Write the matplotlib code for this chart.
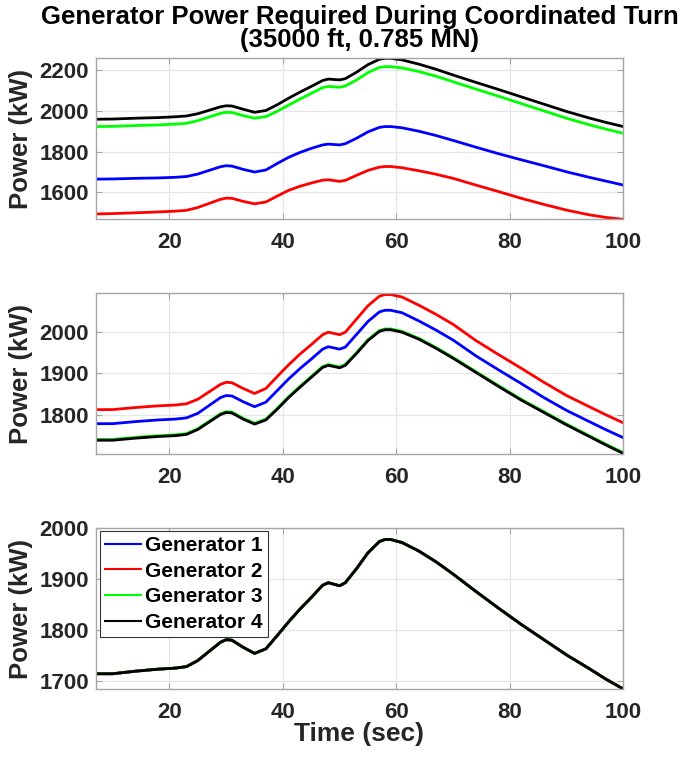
import matplotlib
matplotlib.use("Agg")
import matplotlib.pyplot as plt

# ---------------- data ----------------
time_s = [7, 10, 14, 18, 21, 23, 25, 27, 29, 30, 31, 33, 35, 37, 39, 41, 43, 45, 47, 48,
          49, 50, 51, 53, 55, 57, 58, 59, 61, 64, 67, 70, 74, 78, 82, 86, 90, 94, 97, 100]

# Panel 1
p1_gen1 = [1665, 1666, 1669, 1671, 1674, 1678, 1690, 1708, 1726, 1731, 1729, 1713, 1700, 1710, 1742, 1772, 1796, 1816, 1833, 1837,
           1835, 1833, 1839, 1866, 1897, 1919, 1923, 1923, 1917, 1900, 1879, 1855, 1822, 1790, 1760, 1731, 1701, 1674, 1655, 1636]
p1_gen2 = [1494, 1496, 1500, 1504, 1508, 1512, 1526, 1546, 1566, 1572, 1571, 1556, 1544, 1553, 1582, 1610, 1630, 1646, 1660, 1662,
           1658, 1654, 1659, 1684, 1708, 1724, 1727, 1727, 1721, 1706, 1689, 1669, 1636, 1604, 1571, 1541, 1513, 1490, 1477, 1468]
p1_gen3 = [1923, 1924, 1928, 1931, 1935, 1939, 1952, 1970, 1988, 1993, 1992, 1977, 1964, 1972, 1998, 2028, 2058, 2086, 2114, 2120,
           2118, 2116, 2122, 2152, 2188, 2213, 2217, 2217, 2211, 2193, 2170, 2143, 2107, 2072, 2036, 2000, 1964, 1932, 1910, 1890]
p1_gen4 = [1959, 1960, 1964, 1967, 1971, 1975, 1986, 2003, 2020, 2025, 2024, 2008, 1993, 2002, 2030, 2062, 2092, 2120, 2149, 2156,
           2154, 2152, 2158, 2190, 2227, 2253, 2258, 2258, 2250, 2229, 2204, 2176, 2140, 2105, 2069, 2033, 1997, 1965, 1943, 1923]

# Panel 2
p2_gen1 = [1778, 1778, 1783, 1787, 1789, 1792, 1803, 1822, 1841, 1846, 1845, 1831, 1819, 1830, 1858, 1886, 1911, 1934, 1958, 1964,
           1961, 1958, 1963, 1994, 2025, 2048, 2052, 2052, 2046, 2026, 2004, 1980, 1942, 1908, 1875, 1841, 1810, 1783, 1763, 1744]
p2_gen2 = [1812, 1812, 1817, 1821, 1823, 1826, 1837, 1855, 1873, 1878, 1877, 1863, 1851, 1863, 1892, 1920, 1946, 1969, 1993, 1999,
           1996, 1993, 1999, 2031, 2063, 2086, 2090, 2090, 2084, 2064, 2042, 2018, 1979, 1945, 1912, 1878, 1846, 1819, 1799, 1780]
p2_gen3 = [1740, 1740, 1745, 1749, 1751, 1754, 1766, 1784, 1802, 1807, 1806, 1791, 1779, 1789, 1815, 1843, 1868, 1892, 1916, 1921,
           1918, 1915, 1921, 1950, 1981, 2003, 2007, 2007, 2001, 1984, 1962, 1938, 1904, 1870, 1837, 1807, 1777, 1749, 1728, 1708]
p2_gen4 = [1738, 1738, 1743, 1747, 1749, 1752, 1764, 1782, 1800, 1805, 1804, 1789, 1777, 1787, 1813, 1841, 1866, 1890, 1914, 1919,
           1916, 1913, 1919, 1948, 1979, 2001, 2005, 2005, 1999, 1982, 1960, 1936, 1902, 1868, 1835, 1805, 1775, 1747, 1726, 1706]

# Panel 3 (all four generators identical)
p3_gen = [1714, 1714, 1719, 1723, 1725, 1728, 1740, 1758, 1776, 1781, 1780, 1766, 1754, 1763, 1789, 1816, 1841, 1864, 1888, 1893,
          1890, 1887, 1893, 1921, 1952, 1974, 1978, 1978, 1972, 1955, 1934, 1910, 1876, 1843, 1811, 1781, 1751, 1724, 1703, 1684]

gen_labels = ["Generator 1", "Generator 2", "Generator 3", "Generator 4"]
gen_colors = ["#0000ff", "#ff0000", "#00ff00", "#000000"]

x_ticks = [20, 40, 60, 80, 100]
p1_yticks = [1600, 1800, 2000, 2200]
p2_yticks = [1800, 1900, 2000]
p3_yticks = [1700, 1800, 1900, 2000]

title_text = "Generator Power Required During Coordinated Turn\n(35000 ft, 0.785 MN)"
ylabel_text = "Power (kW)"
xlabel_text = "Time (sec)"

# ---------------- style ----------------
plt.rcParams['font.family'] = ['Liberation Sans', 'DejaVu Sans']
plt.rcParams['font.weight'] = 'bold'

W, H = 684, 759
fig = plt.figure(figsize=(W / 100, H / 100), dpi=100)

left = 95.7 / W
width = (623.3 - 95.7) / W
panels = [(58.3, 219.3), (293.3, 454.3), (528.3, 689.0)]
axes = []
for top, bot in panels:
    ax = fig.add_axes([left, 1 - bot / H, width, (bot - top) / H])
    axes.append(ax)

frame_col = "#a6a6a6"
text_col = "#262626"

def style(ax, yticks, ylim):
    ax.set_xlim(7, 100)
    ax.set_ylim(*ylim)
    ax.set_xticks(x_ticks)
    ax.set_yticks(yticks)
    ax.grid(True, color="#e6e6e6", linewidth=0.9)
    ax.set_axisbelow(True)
    for sp in ax.spines.values():
        sp.set_color(frame_col)
        sp.set_linewidth(1.0)
    ax.tick_params(direction='in', top=True, right=True, length=4, width=0.8,
                   color=frame_col, labelcolor=text_col, labelsize=16)
    ax.tick_params(axis='x', pad=9)
    ax.tick_params(axis='y', pad=5)
    for lab in ax.get_xticklabels() + ax.get_yticklabels():
        lab.set_fontweight('bold')
    ax.set_ylabel(ylabel_text, fontsize=18.5, fontweight='bold', color=text_col)
    ax.yaxis.set_label_coords(-0.118, 0.5)

lw = 2.0
ax1, ax2, ax3 = axes
for vals, c, lab in zip([p1_gen1, p1_gen2, p1_gen3, p1_gen4], gen_colors, gen_labels):
    ax1.plot(time_s, vals, color=c, lw=lw, label=lab)
for vals, c, lab in zip([p2_gen1, p2_gen2, p2_gen3, p2_gen4], gen_colors, gen_labels):
    ax2.plot(time_s, vals, color=c, lw=lw, label=lab)
for c, lab in zip(gen_colors, gen_labels):
    ax3.plot(time_s, p3_gen, color=c, lw=lw, label=lab)

style(ax1, p1_yticks, (1468, 2258))
style(ax2, p2_yticks, (1704, 2093))
style(ax3, p3_yticks, (1684, 2000))

ax1.set_title(title_text, fontsize=18.5, fontweight='bold', color='black', pad=8, linespacing=0.95)
ax3.set_xlabel(xlabel_text, fontsize=19, fontweight='bold', color=text_col, labelpad=0)

leg = ax3.legend(loc='upper left', bbox_to_anchor=(0.008, 0.985), fontsize=15, frameon=True,
                 fancybox=False, edgecolor="#333333", framealpha=1, handlelength=1.7,
                 handletextpad=0.2, labelspacing=0.32, borderpad=0.25, borderaxespad=0)
leg.get_frame().set_linewidth(0.8)
for t in leg.get_texts():
    t.set_fontweight('bold')
for h in leg.get_lines():
    h.set_linewidth(1.5)

fig.savefig("out.png", dpi=100)
